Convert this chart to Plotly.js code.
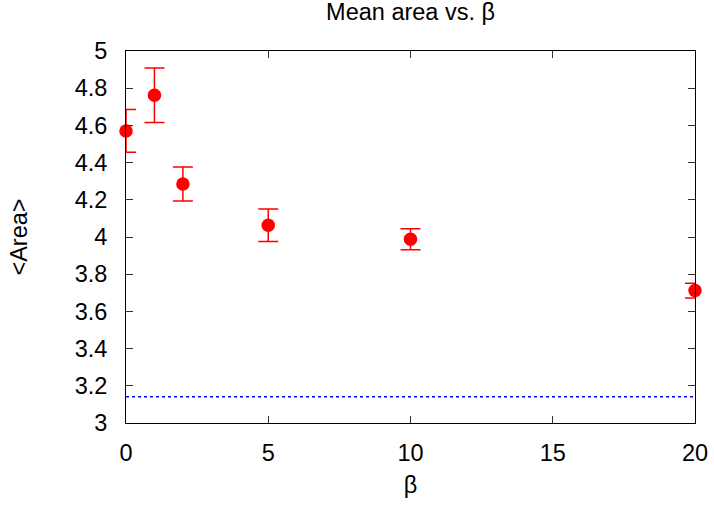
<!DOCTYPE html>
<html>
<head>
<meta charset="utf-8">
<script src="https://cdn.plot.ly/plotly-3.0.1.min.js"></script>
<style>html,body{margin:0;padding:0;background:#fff;}#chart{width:714px;height:508px;}</style>
</head>
<body>
<div id="chart"></div>
<script>
const beta = [0, 1, 2, 5, 10, 20];
const meanArea = [4.570, 4.762, 4.285, 4.063, 3.988, 3.712];
const areaErr = [0.115, 0.147, 0.091, 0.087, 0.057, 0.040];
const refX = [0, 20];
const refY = [Math.PI, Math.PI];
const yTickVals = [3, 3.2, 3.4, 3.6, 3.8, 4, 4.2, 4.4, 4.6, 4.8, 5];
const yTickText = ['3', '3.2', '3.4', '3.6', '3.8', '4', '4.2', '4.4', '4.6', '4.8', '5'];
const xTickVals = [0, 5, 10, 15, 20];

const font = 'Liberation Sans, Arial, Helvetica, sans-serif';

const traces = [
  {
    x: refX, y: refY, mode: 'lines', type: 'scatter',
    line: {color: '#0000ff', width: 1.5, dash: 'dot'},
    hoverinfo: 'skip', showlegend: false
  },
  {
    x: beta, y: meanArea, mode: 'markers', type: 'scatter',
    marker: {color: '#ff0000', size: 13.5},
    error_y: {type: 'data', array: areaErr, visible: true, color: '#ff0000', thickness: 1.5, width: 10},
    cliponaxis: false, showlegend: false
  }
];

const layout = {
  width: 714, height: 508,
  margin: {l: 125.5, r: 19, t: 50.7, b: 85.3},
  paper_bgcolor: '#fff', plot_bgcolor: '#fff',
  font: {family: font, color: '#000', size: 23.5},
  title: {text: 'Mean area vs. β', font: {size: 23.5, family: font}, x: 0.575, xanchor: 'center', y: 0.977, yanchor: 'middle'},
  xaxis: {
    range: [0, 20], tickvals: xTickVals, ticks: 'inside', ticklen: 7, tickcolor: '#333',
    showline: true, linecolor: '#000', linewidth: 1, mirror: 'ticks', showgrid: false, zeroline: false,
    tickfont: {size: 23.5}, ticklabelstandoff: 9, title: {text: 'β', font: {size: 23.5}, standoff: 11}
  },
  yaxis: {
    range: [3, 5], tickvals: yTickVals, ticktext: yTickText, ticks: 'inside', ticklen: 7, tickcolor: '#333',
    showline: true, linecolor: '#000', linewidth: 1, mirror: 'ticks', showgrid: false, zeroline: false,
    tickfont: {size: 23.5}, ticklabelstandoff: 13, title: {text: '&lt;Area&gt;', font: {size: 23.5}, standoff: 40}
  }
};

Plotly.newPlot('chart', traces, layout, {staticPlot: true, displayModeBar: false});
</script>
</body>
</html>
